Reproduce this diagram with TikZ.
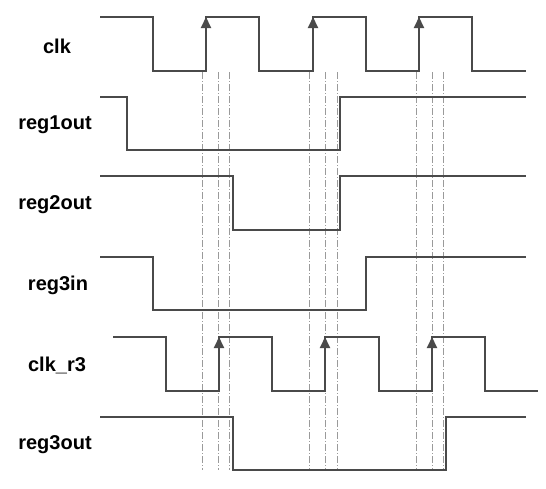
\documentclass[tikz,border=0pt]{standalone}
\usepackage{fontspec}
\setmainfont{Liberation Sans}
\usetikzlibrary{arrows.meta,positioning}

\definecolor{wavegray}{HTML}{4A4A4A}
\definecolor{guidegray}{HTML}{9A9A9A}

\tikzset{
	wave/.style={draw=wavegray, line width=2pt, line join=miter},
	guide/.style={draw=guidegray, line width=0.7pt, dash pattern=on 7pt off 2pt on 1pt off 2pt},
	clkedge/.style={draw=wavegray, line width=2pt, -{Triangle[length=11pt,width=10pt]}},
	signame/.style={font=\bfseries\fontsize{20}{24}\selectfont, text=black}
}

\begin{document}
\begin{tikzpicture}[x=1pt, y=-1pt]
	\useasboundingbox (0,0) rectangle (546,488);
	% signal names
	\node[signame] (clk) at (57,46) {clk};
	\node[signame] (reg1out) at (55,125) {reg1out};
	\node[signame] (reg2out) at (55,205) {reg2out};
	\node[signame] (reg3in) at (58,285) {reg3in};
	\node[signame] (clkr3) at (57,365) {clk\_r3};
	\node[signame] (reg3out) at (55,445) {reg3out};
	% timing guides
	\foreach \gx in {202,218,229,309,325,337,416,432,443}
		\draw[guide] (\gx,72) -- (\gx,470);
	% waveforms
	\draw[wave] (100,17) -- (153,17) -- (153,71) -- (206,71) -- (206,17) -- (259,17) -- (259,71)
		-- (313,71) -- (313,17) -- (366,17) -- (366,71) -- (419,71) -- (419,17) -- (472,17)
		-- (472,71) -- (526,71);
	\draw[wave] (100,97) -- (127,97) -- (127,150) -- (340,150) -- (340,97) -- (526,97);
	\draw[wave] (100,176) -- (233,176) -- (233,230) -- (340,230) -- (340,176) -- (526,176);
	\draw[wave] (100,257) -- (153,257) -- (153,310) -- (366,310) -- (366,257) -- (526,257);
	\draw[wave] (113,337) -- (166,337) -- (166,391) -- (219,391) -- (219,337) -- (272,337) -- (272,391)
		-- (325,391) -- (325,337) -- (379,337) -- (379,391) -- (432,391) -- (432,337) -- (485,337)
		-- (485,391) -- (538,391);
	\draw[wave] (100,417) -- (233,417) -- (233,470) -- (446,470) -- (446,417) -- (526,417);
	% active clock edges
	\foreach \ex in {206,313,419}
		\draw[clkedge] (\ex,71) -- (\ex,17);
	\foreach \ex in {219,325,432}
		\draw[clkedge] (\ex,391) -- (\ex,337);
\end{tikzpicture}
\end{document}
